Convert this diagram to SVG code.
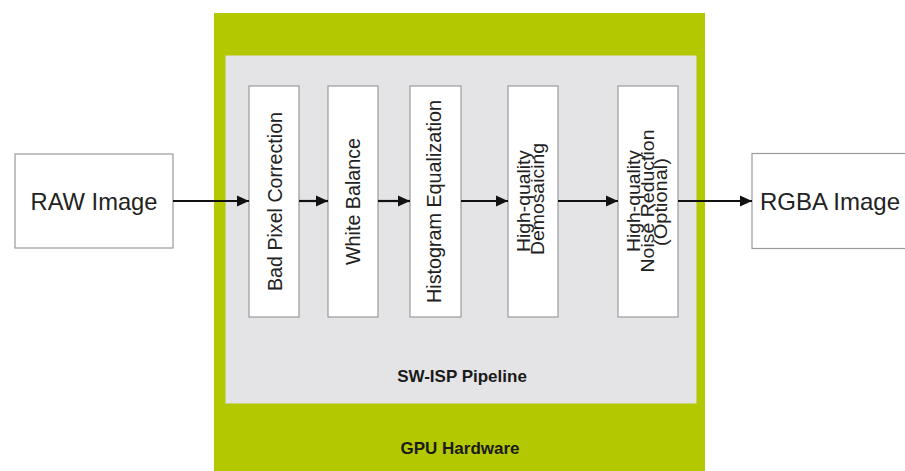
<svg xmlns="http://www.w3.org/2000/svg" width="905" height="471" viewBox="0 0 905 471">
<style>
.box{fill:#ffffff;stroke:#9a9a9a;stroke-width:1.2}
.big{font-family:"Liberation Sans",Arial,sans-serif;font-size:24px;fill:#222}
.vt{font-family:"Liberation Sans",Arial,sans-serif;font-size:20px;fill:#222;text-anchor:middle}
.vt2{font-family:"Liberation Sans",Arial,sans-serif;font-size:17.5px;fill:#222;text-anchor:middle}
.lbl{font-family:"Liberation Sans",Arial,sans-serif;font-size:17px;font-weight:bold;fill:#1a1a1a;text-anchor:middle}
.conn{stroke:#111;stroke-width:2.2;fill:none;marker-end:url(#ah)}
</style>
<defs>
<marker id="ah" viewBox="0 0 12 12" refX="12" refY="6" markerWidth="12" markerHeight="12" markerUnits="userSpaceOnUse" orient="auto">
<path d="M0,0.5 L12,6 L0,11.5 Z" fill="#111"/>
</marker>
</defs>
<rect x="0" y="0" width="905" height="471" fill="#ffffff"/>
<g id="gpu-hardware">
<rect x="214" y="13" width="491" height="470" fill="#b4c800"/>
<text class="lbl" x="460" y="454">GPU Hardware</text>
</g>
<g id="sw-isp-pipeline">
<rect x="226" y="56" width="470" height="347" fill="#e4e4e6" stroke="#e0e0ec" stroke-width="1"/>
<text class="lbl" x="462" y="382">SW-ISP Pipeline</text>
</g>
<g id="raw-image">
<rect class="box" x="15" y="154" width="158" height="94"/>
<text class="big" x="94" y="210" text-anchor="middle" textLength="127" lengthAdjust="spacingAndGlyphs">RAW Image</text>
</g>
<g id="rgba-image">
<rect class="box" x="752" y="153.5" width="160" height="95"/>
<text class="big" x="760" y="210" textLength="140" lengthAdjust="spacingAndGlyphs">RGBA Image</text>
</g>
<g id="bad-pixel-correction">
<rect class="box" x="249" y="86" width="50" height="231"/>
<text class="vt" transform="translate(282,201.5) rotate(-90)" x="0" y="0" textLength="179" lengthAdjust="spacingAndGlyphs">Bad Pixel Correction</text>
</g>
<g id="white-balance">
<rect class="box" x="328" y="86" width="50" height="231"/>
<text class="vt" transform="translate(360,201.5) rotate(-90)" x="0" y="0" textLength="127" lengthAdjust="spacingAndGlyphs">White Balance</text>
</g>
<g id="histogram-equalization">
<rect class="box" x="410" y="86" width="51" height="231"/>
<text class="vt" transform="translate(441,201.5) rotate(-90)" x="0" y="0" textLength="203" lengthAdjust="spacingAndGlyphs">Histogram Equalization</text>
</g>
<g id="high-quality-demosaicing">
<rect class="box" x="508" y="86" width="50" height="231"/>
<text class="vt2" transform="translate(530,201) rotate(-90)" x="0" y="0" textLength="102" lengthAdjust="spacingAndGlyphs">High-quality</text>
<text class="vt2" transform="translate(543.5,199) rotate(-90)" x="0" y="0" textLength="112" lengthAdjust="spacingAndGlyphs">Demosaicing</text>
</g>
<g id="high-quality-noise-reduction">
<rect class="box" x="618" y="86" width="60" height="231"/>
<text class="vt2" transform="translate(640,201) rotate(-90)" x="0" y="0" textLength="102" lengthAdjust="spacingAndGlyphs">High-quality</text>
<text class="vt2" transform="translate(653.5,201) rotate(-90)" x="0" y="0" textLength="143" lengthAdjust="spacingAndGlyphs">Noise Reduction</text>
<text class="vt2" transform="translate(667,202) rotate(-90)" x="0" y="0" textLength="88" lengthAdjust="spacingAndGlyphs">(Optional)</text>
</g>
<g id="connectors">
<line class="conn" x1="173" y1="201" x2="249" y2="201"/>
<line class="conn" x1="299" y1="201" x2="328" y2="201"/>
<line class="conn" x1="378" y1="201" x2="410" y2="201"/>
<line class="conn" x1="461" y1="201" x2="508" y2="201"/>
<line class="conn" x1="558" y1="201" x2="618" y2="201"/>
<line class="conn" x1="678" y1="201" x2="752" y2="201"/>
</g>
</svg>
